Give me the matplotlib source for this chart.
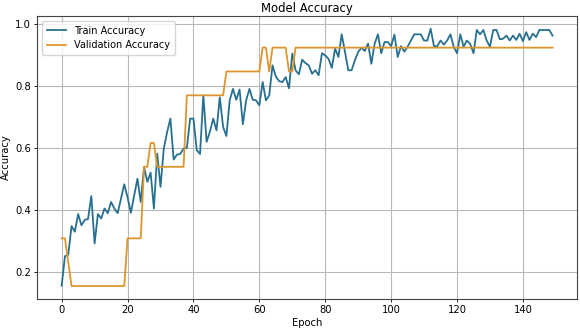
import numpy as np
import matplotlib
matplotlib.use('Agg')
import matplotlib.pyplot as plt

# per-epoch accuracy history (150 epochs)
train_acc = [
    0.155, 0.250, 0.255, 0.347, 0.329, 0.386, 0.350, 0.367, 0.370, 0.444,
    0.291, 0.386, 0.372, 0.404, 0.389, 0.425, 0.404, 0.389, 0.435, 0.482,
    0.440, 0.390, 0.445, 0.500, 0.425, 0.538, 0.490, 0.520, 0.404, 0.581,
    0.474, 0.597, 0.650, 0.694, 0.562, 0.578, 0.580, 0.597, 0.600, 0.694,
    0.694, 0.592, 0.580, 0.769, 0.619, 0.652, 0.694, 0.656, 0.763, 0.667,
    0.638, 0.753, 0.790, 0.755, 0.788, 0.676, 0.753, 0.790, 0.755, 0.753,
    0.737, 0.812, 0.753, 0.769, 0.866, 0.830, 0.815, 0.812, 0.828, 0.792,
    0.904, 0.850, 0.837, 0.884, 0.873, 0.866, 0.839, 0.850, 0.834, 0.905,
    0.898, 0.887, 0.858, 0.920, 0.893, 0.966, 0.909, 0.850, 0.850, 0.882,
    0.909, 0.923, 0.912, 0.936, 0.871, 0.936, 0.966, 0.905, 0.941, 0.941,
    0.928, 0.965, 0.893, 0.928, 0.910, 0.926, 0.946, 0.966, 0.966, 0.966,
    0.946, 0.946, 0.984, 0.928, 0.928, 0.946, 0.933, 0.946, 0.966, 0.926,
    0.905, 0.966, 0.926, 0.946, 0.935, 0.905, 0.980, 0.966, 0.980, 0.946,
    0.926, 0.980, 0.980, 0.950, 0.952, 0.962, 0.946, 0.962, 0.948, 0.968,
    0.944, 0.973, 0.948, 0.968, 0.957, 0.980, 0.980, 0.980, 0.980, 0.962,
]

val_acc = (
    [0.3077, 0.3077, 0.2308] + [0.1538] * 17 + [0.3077] * 5
    + [0.5385] * 2 + [0.6154] * 2 + [0.5385] * 9 + [0.7692] * 12
    + [0.8462] * 11 + [0.9231] * 2 + [0.8462] + [0.9231] * 5
    + [0.8462] * 2 + [0.9231] * 79
)

epochs = np.arange(len(train_acc))

fig = plt.figure(figsize=(5.8, 3.31), dpi=100)
ax = fig.add_axes([0.064, 0.097, 0.931, 0.855])

ax.plot(epochs, train_acc, color='#27708f', lw=1.3, label='Train Accuracy')
ax.plot(epochs, val_acc, color='#dc962e', lw=1.3, label='Validation Accuracy')

ax.set_title('Model Accuracy', fontsize=8.4, pad=3)
ax.set_xlabel('Epoch', fontsize=7.2, labelpad=2)
ax.set_ylabel('Accuracy', fontsize=7.2, labelpad=3)
ax.set_xticks(np.arange(0, 141, 20))
ax.set_yticks([0.2, 0.4, 0.6, 0.8, 1.0])
ax.tick_params(labelsize=7.2, length=2.5, width=0.6, pad=2)
ax.grid(True, color='#b8b8b8', lw=0.8)
for s in ax.spines.values():
    s.set_color('#444444')
    s.set_linewidth(0.8)

ax.legend(loc='upper left', fontsize=7, handlelength=2.0,
          borderpad=0.5, labelspacing=0.5, framealpha=0.8)

fig.savefig('out.png', dpi=100)
